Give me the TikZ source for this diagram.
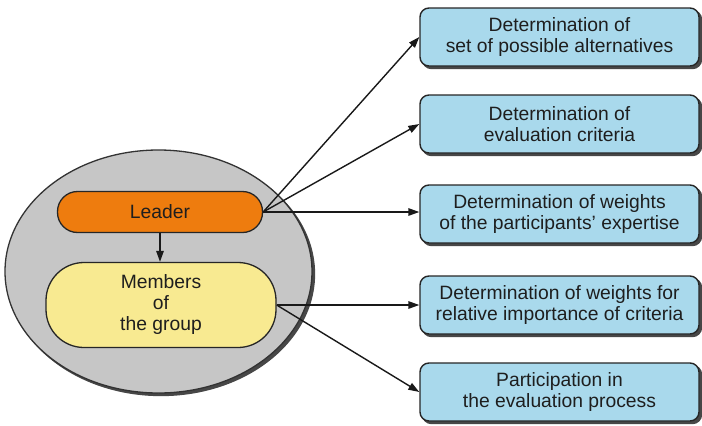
\documentclass[tikz,border=0pt]{standalone}
\usepackage{fontspec}
\setmainfont{Liberation Sans}
\usetikzlibrary{shapes.geometric,shadows,arrows.meta}
\definecolor{boxblue}{HTML}{A9D9EC}
\definecolor{leaderor}{HTML}{EE7C0E}
\definecolor{memyel}{HTML}{F8EA91}
\definecolor{ellgray}{HTML}{C6C6C6}
\definecolor{txt}{HTML}{1E1E1E}
\begin{document}
\begin{tikzpicture}[x=1pt,y=-1pt,
 every node/.style={font=\fontsize{19.3}{21}\selectfont, text=txt, align=center, inner sep=0pt},
 sh/.style={general shadow={fill=black!72, draw=black!72, shadow xshift=2.5pt, shadow yshift=-2.5pt}},
 bbox/.style={draw=black!85, line width=1.4pt, fill=boxblue, rounded corners=9pt, minimum width=279pt, minimum height=58pt, sh},
 arr/.style={-{Triangle[length=11pt,width=7.5pt]}, line width=1.4pt, draw=black!90}]
\useasboundingbox (0,0) rectangle (702,426);
\node[ellipse, draw=black!80, line width=1.3pt, fill=ellgray, minimum width=307pt, minimum height=243pt, sh] (grp) at (158.5,271.5) {};
\node[draw=black!85, line width=1.3pt, rounded corners=20pt, fill=leaderor, minimum width=205pt, minimum height=41pt] (leader) at (160,212) {Leader};
\node[draw=black!85, line width=1.3pt, rounded corners=38pt, fill=memyel, minimum width=230pt, minimum height=85pt] (mem) at (161,305) {Members\\of\\the group};
\node[bbox] (b1) at (559.5,37) {Determination of\\set of possible alternatives};
\node[bbox] (b2) at (559.5,124) {Determination of\\evaluation criteria};
\node[bbox] (b3) at (559.5,214) {Determination of weights\\of the participants’ expertise};
\node[bbox] (b4) at (559.5,305) {Determination of weights for\\relative importance of criteria};
\node[bbox] (b5) at (559.5,392) {Participation in\\the evaluation process};
\draw[arr] (leader.south) -- (leader.south |- mem.north);
\draw[arr] (leader.east) -- (b1.west);
\draw[arr] (leader.east) -- (b2.west);
\draw[arr] (leader.east) -- (b3.west |- leader.east);
\draw[arr] (mem.east) -- (b4.west);
\draw[arr] (mem.east) -- (b5.west);
\end{tikzpicture}
\end{document}
